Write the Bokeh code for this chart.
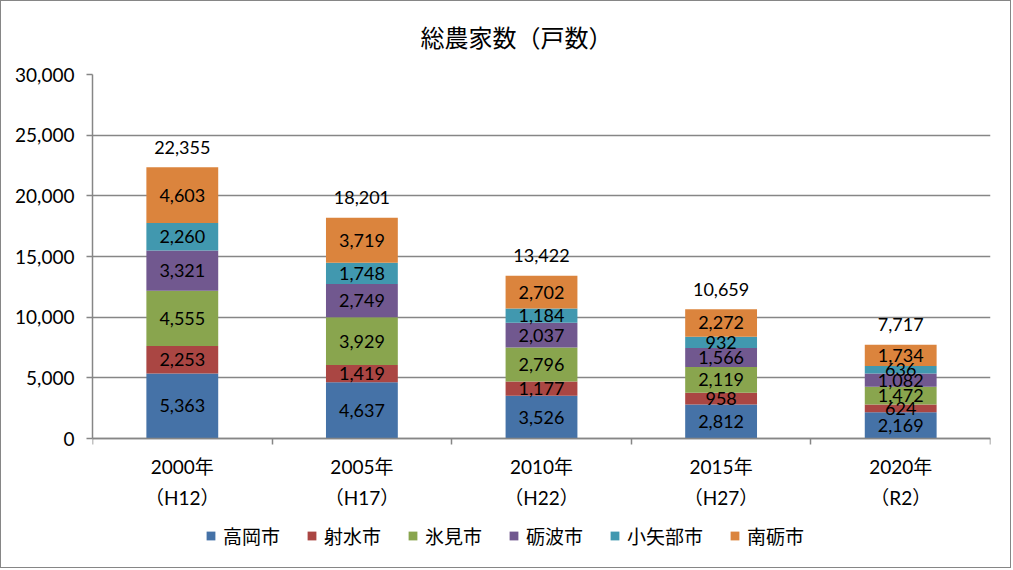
from bokeh.plotting import figure
from bokeh.models import Range1d, FixedTicker, ColumnDataSource, Legend, LegendItem, NumeralTickFormatter, LinearAxis
from bokeh.core.properties import value
from bokeh.embed import file_html
from bokeh.resources import INLINE

categories = ["2000年\n（H12）", "2005年\n（H17）", "2010年\n（H22）", "2015年\n（H27）", "2020年\n（R2）"]
cities = ["高岡市", "射水市", "氷見市", "砺波市", "小矢部市", "南砺市"]
takaoka = [5363, 4637, 3526, 2812, 2169]
imizu = [2253, 1419, 1177, 958, 624]
himi = [4555, 3929, 2796, 2119, 1472]
tonami = [3321, 2749, 2037, 1566, 1082]
oyabe = [2260, 1748, 1184, 932, 636]
nanto = [4603, 3719, 2702, 2272, 1734]
y_ticks = [0, 5000, 10000, 15000, 20000, 25000, 30000]

series = [takaoka, imizu, himi, tonami, oyabe, nanto]
colors = ["#4572A7", "#AA4643", "#89A54E", "#71588F", "#4198AF", "#DB843D"]

NUM_FONT = "Lato, 'Noto Sans CJK JP'"
CJK_FONT = "'Noto Sans CJK JP'"
GRAY = "#868686"

W, H = 1011, 568
TOP, BOTTOM, LEFT, RIGHT = 73, 9, 91, 22
frame_h = H - TOP - BOTTOM
zero_px = 364  # pixels from frame top to value 0
y_max = 30000
y_min = y_max - frame_h / zero_px * y_max

p = figure(width=W, height=H, output_backend="svg", toolbar_location=None,
           x_range=Range1d(0, len(categories)), y_range=Range1d(y_min, y_max),
           min_border_left=LEFT, min_border_right=RIGHT, min_border_top=TOP, min_border_bottom=BOTTOM)
p.styles = {"border": "1px solid " + GRAY}

p.title.text = "総農家数（戸数）"
p.title.align = "left"
p.title.vertical_align = "top"
p.title.text_font = NUM_FONT
p.title.text_font_style = "normal"
p.title.text_font_size = "24px"
p.title.text_color = "#000000"
p.title.offset = 328
p.title.standoff = 42

xs = [i + 0.5 for i in range(len(categories))]
data = {"x": xs}
for name, vals in zip(cities, series):
    data[name] = vals
src = ColumnDataSource(data)
rs = p.vbar_stack(cities, x="x", width=0.4, color=colors, source=src, line_color=None)

# segment labels
lx, ly, lt = [], [], []
for i in range(len(categories)):
    base = 0
    for vals in series:
        v = vals[i]
        lx.append(xs[i]); ly.append(base + v / 2); lt.append(f"{v:,}")
        base += v
p.text(x=lx, y=ly, text=lt, text_align="center", text_baseline="middle",
       text_font=value("Lato"), text_font_size="18px", text_color="#000000")

totals = [sum(vals[i] for vals in series) for i in range(len(categories))]
p.text(x=xs, y=totals, text=[f"{t:,}" for t in totals], text_align="center", text_baseline="middle",
       y_offset=-20, text_font=value("Lato"), text_font_size="18px", text_color="#000000")

# axes
p.xgrid.visible = False
p.ygrid.grid_line_color = GRAY
p.ygrid.grid_line_width = 1.5
p.ygrid.ticker = FixedTicker(ticks=y_ticks)
p.yaxis.ticker = FixedTicker(ticks=y_ticks)
p.yaxis.bounds = (0, y_max)
p.yaxis.formatter = NumeralTickFormatter(format="0,0")
p.yaxis.axis_line_color = GRAY
p.yaxis.axis_line_width = 1.5
p.yaxis.major_tick_line_color = GRAY
p.yaxis.major_tick_line_width = 1.5
p.yaxis.major_tick_out = 6
p.yaxis.major_tick_in = 0
p.yaxis.minor_tick_line_color = None
p.yaxis.major_label_standoff = 12
p.yaxis.major_label_text_font = NUM_FONT
p.yaxis.major_label_text_font_size = "19px"
p.yaxis.major_label_text_color = "#000000"

p.xaxis.fixed_location = 0
p.xaxis.ticker = FixedTicker(ticks=xs)
p.xaxis.major_label_overrides = {x: c for x, c in zip(xs, categories)}
p.xaxis.axis_line_color = GRAY
p.xaxis.axis_line_width = 1.5
p.xaxis.major_tick_line_color = None
p.xaxis.minor_tick_line_color = None
p.xaxis.major_label_standoff = 10
p.xaxis.major_label_text_font = NUM_FONT
p.xaxis.major_label_text_font_size = "19px"
p.xaxis.major_label_text_color = "#000000"
p.xaxis.major_label_text_line_height = 1.37

# tick marks between categories
boundaries = list(range(len(categories) + 1))
tick_axis = LinearAxis(fixed_location=0, ticker=FixedTicker(ticks=boundaries, minor_ticks=[]),
                       major_label_overrides={b: "" for b in boundaries},
                       axis_line_color=None, major_tick_line_color=GRAY, major_tick_line_width=1.5,
                       major_tick_out=6, major_tick_in=0, minor_tick_line_color=None)
p.add_layout(tick_axis, "below")

p.outline_line_color = None

legend = Legend(items=[LegendItem(label=c, renderers=[r]) for c, r in zip(cities, rs)],
                orientation="horizontal", location=(113, 11))
legend.label_text_font = CJK_FONT
legend.label_text_font_size = "19px"
legend.label_text_color = "#000000"
legend.glyph_width = 11
legend.glyph_height = 11
legend.label_standoff = 7
legend.spacing = 26
legend.border_line_color = None
legend.background_fill_alpha = 0
legend.margin = 0
legend.padding = 0
p.add_layout(legend)

open("out.html", "w").write(file_html(p, INLINE))
